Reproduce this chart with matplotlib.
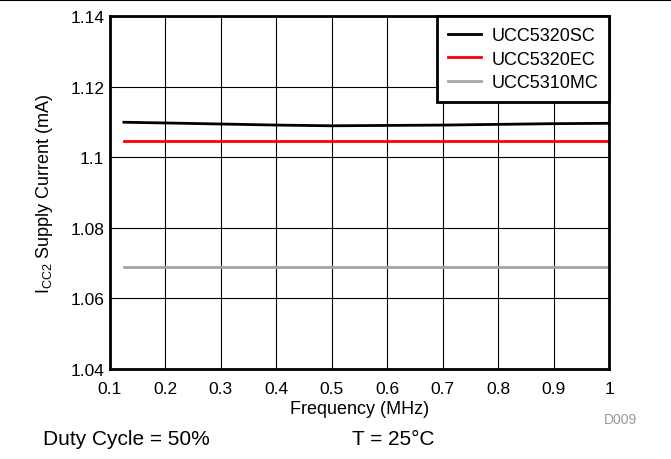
import matplotlib
matplotlib.use('Agg')
import matplotlib.pyplot as plt
from matplotlib.lines import Line2D

plt.rcParams['font.family'] = ['Liberation Sans', 'DejaVu Sans']

freq = [0.125, 0.2, 0.3, 0.4, 0.5, 0.6, 0.7, 0.8, 0.9, 1.0]
sc = [1.1099, 1.1097, 1.1094, 1.1091, 1.1089, 1.1090, 1.1091, 1.1093, 1.1095, 1.1096]
ec = [1.1047] * len(freq)
mc = [1.0689] * len(freq)
xticks = [0.1, 0.2, 0.3, 0.4, 0.5, 0.6, 0.7, 0.8, 0.9, 1.0]
xlabels = ['0.1', '0.2', '0.3', '0.4', '0.5', '0.6', '0.7', '0.8', '0.9', '1']
yticks = [1.04, 1.06, 1.08, 1.1, 1.12, 1.14]
ylabels = ['1.04', '1.06', '1.08', '1.1', '1.12', '1.14']

fig = plt.figure(figsize=(6.71, 4.60), dpi=100)
# axes box: x 110..609 px, y 17..370 px
ax = fig.add_axes([110/671, 1 - 370/460, 499/671, 353/460])

ax.plot(freq, sc, color='black', lw=2, label='UCC5320SC')
ax.plot(freq, ec, color='#ff0000', lw=2, label='UCC5320EC')
ax.plot(freq, mc, color='#a6a6a6', lw=2, label='UCC5310MC')

ax.set_xlim(0.1, 1.0)
ax.set_ylim(1.04, 1.14)
ax.set_xticks(xticks)
ax.set_xticklabels(xlabels)
ax.set_yticks(yticks)
ax.set_yticklabels(ylabels)
ax.tick_params(length=0, labelsize=12.5)
ax.tick_params(axis='x', pad=9)
ax.tick_params(axis='y', pad=4)
ax.grid(True, color='black', lw=0.8)
ax.set_axisbelow(True)
for s in ax.spines.values():
    s.set_linewidth(2)

ax.set_xlabel('Frequency (MHz)', fontsize=13)
ax.xaxis.set_label_coords(0.5, -0.088)
ax.set_ylabel('I$_{\\mathregular{CC2}}$ Supply Current (mA)', fontsize=13)
ax.yaxis.set_label_coords(-0.11, 0.5)

leg = ax.legend(loc='upper right', fontsize=13, frameon=True, fancybox=False,
                borderaxespad=0, handlelength=1.85, labelspacing=0.37,
                borderpad=0.6, handletextpad=0.55)
leg.get_frame().set_edgecolor('black')
leg.get_frame().set_linewidth(2)
leg.get_frame().set_alpha(1)

fig.add_artist(Line2D([0, 1], [0.998, 0.998], color='black', lw=1.5))
fig.text(0.949, 0.087, 'D009', fontsize=10, color='#999999', ha='right', va='center')
fig.text(0.064, 0.0435, 'Duty Cycle = 50%', fontsize=15, va='center')
fig.text(0.5246, 0.0435, 'T = 25°C', fontsize=15, va='center')

fig.savefig('out.png', dpi=100)
